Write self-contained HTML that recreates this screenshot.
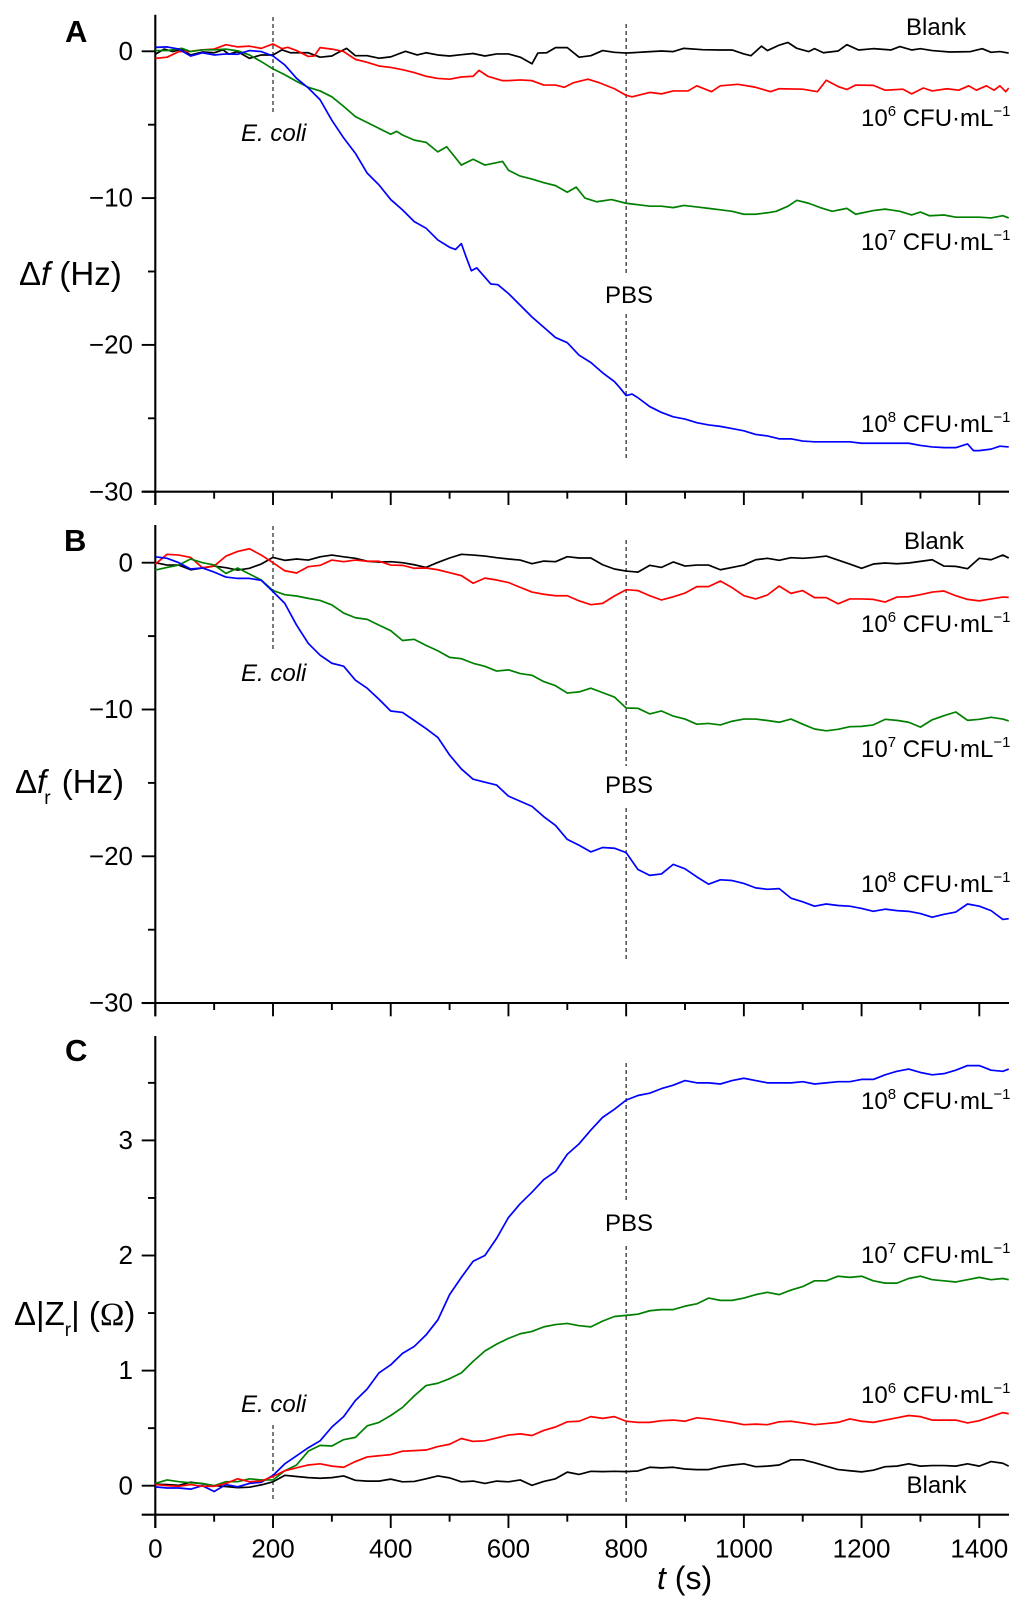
<!DOCTYPE html>
<html lang="en">
<head>
<meta charset="utf-8">
<title>Delta f, Delta fr and Delta |Zr| versus time</title>
<style>
  html, body { margin: 0; padding: 0; background: #fff; }
  svg { display: block; }
  text { font-family: "Liberation Sans", sans-serif; fill: #000; white-space: pre; }
  .lbl { font-size: 24px; }
  .sup { font-size: 15px; }
  .ttl { font-size: 33px; }
  .pan { font-size: 31px; font-weight: bold; }
  .it { font-style: italic; }
</style>
</head>
<body>
<svg id="chart" xmlns="http://www.w3.org/2000/svg" width="1024" height="1610" viewBox="0 0 1024 1610">
  <defs>
    <clipPath id="plot-clip"><rect x="150" y="0" width="859" height="1610"/></clipPath>
  </defs>
  <rect x="0" y="0" width="1024" height="1610" fill="#fff"/>
  <g id="plot-layer"></g>

  <text class="pan" x="65" y="42">A</text>
  <text class="pan" x="64" y="551">B</text>
  <text class="pan" x="65" y="1061">C</text>

  <text class="ttl" x="19" y="285">Δ<tspan class="it">f</tspan> (Hz)</text>
  <text class="ttl" x="15" y="793">Δ<tspan class="it">f</tspan><tspan font-size="19" dx="-2" dy="11">r</tspan><tspan dx="2" dy="-11"> (Hz)</tspan></text>
  <text class="ttl" x="14" y="1325">Δ|Z<tspan font-size="19" dy="11">r</tspan><tspan dy="-11">| (</tspan><tspan style="font-family:'Liberation Serif',serif">Ω</tspan>)</text>
  <text class="ttl" x="657" y="1589" style="font-size:32px"><tspan class="it">t</tspan> (s)</text>

  <text class="lbl it" x="241" y="141">E. coli</text>
  <text class="lbl it" x="241" y="681">E. coli</text>
  <text class="lbl it" x="241" y="1412">E. coli</text>
  <text class="lbl" x="605" y="303">PBS</text>
  <text class="lbl" x="605" y="793">PBS</text>
  <text class="lbl" x="605" y="1231">PBS</text>

  <text class="lbl" x="906" y="35">Blank</text>
  <text class="lbl" x="861" y="126">10<tspan class="sup" dy="-10">6</tspan><tspan dy="10"> CFU·mL</tspan><tspan class="sup" dy="-10">−1</tspan></text>
  <text class="lbl" x="861" y="250">10<tspan class="sup" dy="-10">7</tspan><tspan dy="10"> CFU·mL</tspan><tspan class="sup" dy="-10">−1</tspan></text>
  <text class="lbl" x="861" y="432">10<tspan class="sup" dy="-10">8</tspan><tspan dy="10"> CFU·mL</tspan><tspan class="sup" dy="-10">−1</tspan></text>

  <text class="lbl" x="904" y="549">Blank</text>
  <text class="lbl" x="861" y="632">10<tspan class="sup" dy="-10">6</tspan><tspan dy="10"> CFU·mL</tspan><tspan class="sup" dy="-10">−1</tspan></text>
  <text class="lbl" x="861" y="757">10<tspan class="sup" dy="-10">7</tspan><tspan dy="10"> CFU·mL</tspan><tspan class="sup" dy="-10">−1</tspan></text>
  <text class="lbl" x="861" y="892">10<tspan class="sup" dy="-10">8</tspan><tspan dy="10"> CFU·mL</tspan><tspan class="sup" dy="-10">−1</tspan></text>

  <text class="lbl" x="861" y="1109">10<tspan class="sup" dy="-10">8</tspan><tspan dy="10"> CFU·mL</tspan><tspan class="sup" dy="-10">−1</tspan></text>
  <text class="lbl" x="861" y="1263">10<tspan class="sup" dy="-10">7</tspan><tspan dy="10"> CFU·mL</tspan><tspan class="sup" dy="-10">−1</tspan></text>
  <text class="lbl" x="861" y="1403">10<tspan class="sup" dy="-10">6</tspan><tspan dy="10"> CFU·mL</tspan><tspan class="sup" dy="-10">−1</tspan></text>
  <text class="lbl" x="906.5" y="1493">Blank</text>
</svg>

<script>
// ---------- Shared axis tick values ----------
const xMajorTicks = [0, 200, 400, 600, 800, 1000, 1200, 1400];
const xMinorTicks = [100, 300, 500, 700, 900, 1100, 1300];
const xTickLabels = ["0", "200", "400", "600", "800", "1000", "1200", "1400"];
const freqMajorTicks = [0, -10, -20, -30];
const freqMinorTicks = [-5, -15, -25];
const freqTickLabels = ["0", "−10", "−20", "−30"];
const zMajorTicks = [0, 1, 2, 3];
const zMinorTicks = [0.5, 1.5, 2.5, 3.5];
const zTickLabels = ["0", "1", "2", "3"];

// ---------- Panel A: delta f (Hz) ----------
const aBlankT = [0,15,30,45,60,80,100,115,125,140,160,180,200,215,230,260,280,300,310,325,340,360,380,400,425,445,460,480,500,520,540,560,580,600,620,640,650,665,680,700,720,740,760,780,800,830,860,880,898,930,960,980,1000,1012,1030,1040,1060,1075,1090,1110,1120,1135,1160,1175,1195,1220,1250,1265,1285,1300,1320,1350,1385,1405,1420,1435,1450];
const aBlankV = [-0.2,0.15,-0.02,0.15,-0.25,-0.05,-0.1,0.1,-0.2,-0.02,-0.48,-0.25,-0.25,0.1,-0.1,-0.1,-0.4,-0.32,-0.1,0.2,-0.3,-0.3,-0.47,-0.38,0,-0.25,-0.1,-0.25,-0.32,-0.23,-0.15,-0.32,-0.18,-0.18,-0.4,-0.85,-0.12,-0.1,0.25,0.25,-0.4,-0.3,0.05,-0.07,-0.12,-0.05,0.02,-0.02,0.2,0.11,0.09,0.09,-0.18,-0.3,0.35,0.05,0.42,0.6,0.2,-0.02,0.18,-0.1,0.02,0.45,0.09,0.18,0.09,0.32,0.09,0.18,0.05,-0.05,-0.02,0.18,-0.07,-0.02,-0.12];

const aRedT = [0,20,40,60,80,100,120,140,160,180,200,215,225,240,260,270,280,300,320,340,360,380,400,420,440,460,480,500,520,540,550,565,590,600,620,640,660,680,695,710,735,755,780,800,810,840,860,880,905,920,945,960,990,1020,1045,1060,1100,1125,1140,1160,1175,1190,1220,1240,1270,1285,1305,1320,1345,1365,1382,1395,1412,1425,1435,1445,1450];
const aRedV = [-0.48,-0.4,-0.02,0,0.1,0.15,0.45,0.3,0.35,0.2,0.5,0.18,0.27,0.05,-0.35,-0.32,0.25,0.15,-0.02,-0.55,-0.75,-1,-1.1,-1.25,-1.45,-1.7,-1.85,-1.9,-1.75,-1.7,-1.3,-1.7,-2,-2,-1.95,-2,-2.3,-2.3,-2.45,-2.15,-1.9,-2.15,-2.55,-3,-3.1,-2.8,-2.9,-2.7,-2.7,-2.35,-2.75,-2.35,-2.25,-2.45,-2.75,-2.55,-2.58,-2.75,-1.97,-2.4,-2.6,-2.3,-2.32,-2.65,-2.58,-2.9,-2.5,-2.7,-2.55,-2.65,-2.35,-2.65,-2.35,-2.65,-2.35,-2.75,-2.5];

const aGreenT = [0,20,45,60,80,100,120,140,160,180,200,220,240,260,280,300,320,340,360,380,400,410,420,440,460,480,495,520,540,560,590,600,620,640,660,680,700,715,730,750,775,800,820,840,860,880,898,920,940,960,980,1000,1020,1040,1055,1075,1090,1110,1130,1150,1175,1190,1220,1240,1265,1285,1300,1315,1340,1360,1400,1420,1440,1450];
const aGreenV = [0.05,0.05,0.2,-0.02,0.1,0.1,0.15,0.03,-0.25,-0.7,-1.2,-1.6,-2.05,-2.45,-2.7,-3.1,-3.75,-4.45,-4.85,-5.25,-5.65,-5.45,-5.7,-6.05,-6.2,-6.85,-6.5,-7.75,-7.35,-7.75,-7.5,-8.1,-8.5,-8.7,-8.95,-9.15,-9.6,-9.25,-10,-10.25,-10.1,-10.35,-10.45,-10.55,-10.55,-10.65,-10.5,-10.6,-10.7,-10.8,-10.9,-11.1,-11.1,-11,-10.9,-10.55,-10.15,-10.35,-10.65,-10.9,-10.7,-11.1,-10.85,-10.75,-10.9,-11.15,-10.95,-11.2,-11.15,-11.3,-11.3,-11.35,-11.2,-11.35];

const aBlueT = [0,20,40,60,80,100,120,140,160,180,200,220,240,260,280,300,320,340,360,380,400,420,440,460,480,500,510,520,528,537,546,570,582,600,620,640,660,680,700,720,740,760,780,790,800,810,820,840,860,880,900,920,940,960,980,1000,1020,1040,1060,1080,1100,1120,1140,1160,1180,1200,1220,1240,1260,1280,1300,1320,1340,1360,1380,1390,1400,1420,1435,1450];
const aBlueV = [0.27,0.3,0.15,-0.32,-0.1,-0.25,-0.18,-0.2,0.05,-0.02,-0.32,-0.93,-1.84,-2.5,-3.3,-4.7,-5.9,-6.95,-8.3,-9.1,-10.1,-10.8,-11.6,-12.05,-12.85,-13.35,-13.5,-13.1,-14,-14.95,-14.75,-15.85,-15.9,-16.5,-17.3,-18.1,-18.8,-19.5,-19.85,-20.7,-21.2,-21.9,-22.5,-22.95,-23.45,-23.35,-23.6,-24.2,-24.6,-24.9,-25.05,-25.3,-25.45,-25.55,-25.7,-25.85,-26.1,-26.2,-26.4,-26.4,-26.55,-26.6,-26.6,-26.6,-26.6,-26.7,-26.7,-26.7,-26.7,-26.7,-26.85,-26.95,-27,-27,-26.75,-27.2,-27.2,-27.1,-26.9,-26.95];

// ---------- Panels B and C share a 20 s sampling grid ----------
const gridTimes = [0,20,40,60,80,100,120,140,160,180,200,220,240,260,280,300,320,340,360,380,400,420,440,460,480,500,520,540,560,580,600,620,640,660,680,700,720,740,760,780,800,820,840,860,880,900,920,940,960,980,1000,1020,1040,1060,1080,1100,1120,1140,1160,1180,1200,1220,1240,1260,1280,1300,1320,1340,1360,1380,1400,1420,1440,1450];

// ---------- Panel B: delta fr (Hz) ----------
const bBlankV = [0,-0.16,-0.16,-0.48,-0.36,-0.23,-0.34,-0.5,-0.38,-0.09,0.36,0.16,0.25,0.18,0.4,0.52,0.4,0.3,0.1,0.05,0.07,0,-0.14,-0.32,0.02,0.32,0.57,0.52,0.45,0.34,0.25,0.18,-0.07,0.11,0.07,0.41,0.32,0.32,-0.14,-0.43,-0.57,-0.64,-0.18,-0.32,0.05,-0.23,-0.16,-0.16,-0.48,-0.32,-0.16,0.2,0.3,0.16,0.34,0.3,0.36,0.45,0.18,-0.09,-0.38,-0.09,-0.02,-0.07,-0.02,0.09,0.2,-0.23,-0.25,-0.41,0.3,0.2,0.52,0.32];
const bRedV = [-0.1,0.57,0.52,0.36,-0.34,-0.23,0.45,0.77,0.95,0.52,0,-0.55,-0.7,-0.27,-0.18,0.18,0.07,0.18,0.1,0.1,-0.16,-0.18,-0.38,-0.36,-0.48,-0.68,-0.88,-1.4,-1.05,-1.18,-1.35,-1.68,-2,-2.15,-2.25,-2.25,-2.6,-2.86,-2.77,-2.27,-1.84,-1.9,-2.25,-2.54,-2.32,-2.07,-1.63,-1.63,-1.25,-1.7,-2.25,-2.47,-2.2,-1.59,-2.09,-1.9,-2.38,-2.38,-2.8,-2.47,-2.47,-2.5,-2.68,-2.34,-2.32,-2.18,-2,-1.93,-2.25,-2.5,-2.6,-2.47,-2.34,-2.36];
const bGreenV = [-0.5,-0.32,-0.16,0.25,0,-0.15,-0.73,-0.36,-0.77,-1.18,-1.9,-2.18,-2.27,-2.43,-2.57,-2.88,-3.43,-3.75,-3.86,-4.25,-4.63,-5.3,-5.22,-5.63,-6,-6.45,-6.54,-6.85,-7.06,-7.38,-7.3,-7.55,-7.67,-8.1,-8.38,-8.88,-8.8,-8.55,-8.85,-9.15,-9.9,-9.92,-10.3,-10.1,-10.45,-10.65,-11,-10.95,-11.05,-10.8,-10.65,-10.65,-10.75,-10.87,-10.65,-11,-11.33,-11.45,-11.35,-11.17,-11.15,-11.05,-10.67,-10.74,-10.87,-11.2,-10.7,-10.42,-10.17,-10.74,-10.67,-10.53,-10.65,-10.78];
const bBlueV = [0.4,0.3,0,-0.43,-0.36,-0.64,-0.98,-1.07,-1.07,-1.2,-1.97,-2.77,-4.25,-5.5,-6.3,-6.85,-7.05,-8,-8.55,-9.3,-10.1,-10.2,-10.75,-11.3,-11.9,-13.1,-14.05,-14.75,-14.95,-15.15,-15.9,-16.25,-16.6,-17.3,-17.9,-18.85,-19.25,-19.7,-19.4,-19.45,-19.75,-20.9,-21.3,-21.2,-20.55,-20.85,-21.4,-21.9,-21.6,-21.65,-21.85,-22.15,-22.25,-22.2,-22.85,-23.1,-23.4,-23.25,-23.35,-23.4,-23.55,-23.75,-23.6,-23.7,-23.75,-23.9,-24.15,-23.95,-23.8,-23.25,-23.4,-23.7,-24.3,-24.25];

// ---------- Panel C: delta |Zr| (ohm) ----------
const cBlankV = [0.013,0.01,0.003,0.03,0.017,0,-0.007,-0.017,-0.013,0.007,0.034,0.09,0.08,0.07,0.065,0.07,0.085,0.047,0.04,0.04,0.057,0.034,0.037,0.06,0.085,0.068,0.034,0.04,0.02,0.04,0.034,0.05,0.003,0.037,0.06,0.118,0.098,0.125,0.122,0.125,0.122,0.128,0.16,0.155,0.16,0.145,0.14,0.14,0.165,0.18,0.19,0.165,0.17,0.18,0.225,0.225,0.2,0.17,0.14,0.13,0.12,0.135,0.165,0.17,0.19,0.17,0.175,0.175,0.17,0.19,0.17,0.21,0.195,0.17];
const cRedV = [0.01,0,-0.005,0.01,-0.005,-0.005,0.02,0.06,0.035,0.04,0.08,0.13,0.155,0.18,0.19,0.17,0.16,0.21,0.25,0.26,0.27,0.3,0.305,0.31,0.34,0.36,0.41,0.385,0.39,0.415,0.44,0.45,0.436,0.48,0.51,0.555,0.56,0.6,0.585,0.6,0.56,0.55,0.55,0.565,0.57,0.56,0.59,0.58,0.565,0.55,0.53,0.535,0.53,0.555,0.56,0.545,0.53,0.54,0.55,0.58,0.56,0.55,0.57,0.59,0.61,0.6,0.57,0.57,0.57,0.545,0.565,0.6,0.635,0.625];
const cGreenV = [0.02,0.05,0.035,0.025,0.02,0,0.035,0.035,0.06,0.05,0.05,0.13,0.18,0.3,0.35,0.345,0.4,0.42,0.52,0.55,0.61,0.68,0.78,0.87,0.89,0.93,0.98,1.08,1.17,1.23,1.28,1.32,1.34,1.38,1.4,1.41,1.39,1.38,1.43,1.47,1.48,1.49,1.52,1.53,1.53,1.56,1.58,1.63,1.61,1.61,1.63,1.66,1.68,1.66,1.7,1.73,1.78,1.78,1.82,1.81,1.82,1.78,1.76,1.76,1.8,1.82,1.79,1.78,1.77,1.79,1.81,1.79,1.8,1.79];
const cBlueV = [-0.01,-0.02,-0.02,-0.03,0,-0.05,0.01,-0.01,0.02,0.03,0.09,0.19,0.26,0.33,0.39,0.51,0.6,0.74,0.84,0.98,1.05,1.15,1.21,1.31,1.44,1.66,1.81,1.95,2,2.15,2.33,2.45,2.55,2.66,2.73,2.88,2.97,3.09,3.2,3.27,3.35,3.39,3.41,3.45,3.48,3.52,3.5,3.5,3.49,3.52,3.54,3.52,3.5,3.5,3.5,3.51,3.49,3.5,3.51,3.51,3.53,3.53,3.57,3.6,3.62,3.59,3.57,3.58,3.61,3.65,3.65,3.61,3.6,3.62];

// ---------- Injection event times ----------
const ecoliTime = [200];
const pbsTime = [800];

// ---------- Axis functions ----------
function xScale(t) { return 155.3 + t * 0.58857; }
function yA(v) { return 51.3 - v * 14.68; }
function yB(v) { return 562.7 - v * 14.68; }
function yC(v) { return 1485.7 - v * 115.1; }

const layer = document.getElementById('plot-layer');
const SVGNS = 'http://www.w3.org/2000/svg';

function addLine(x1, y1, x2, y2, width, color, dash) {
  const el = document.createElementNS(SVGNS, 'line');
  el.setAttribute('x1', x1);
  el.setAttribute('y1', y1);
  el.setAttribute('x2', x2);
  el.setAttribute('y2', y2);
  el.setAttribute('stroke', color || '#000');
  el.setAttribute('stroke-width', width);
  if (dash) el.setAttribute('stroke-dasharray', dash);
  layer.appendChild(el);
  return el;
}

function addSeries(times, values, yFn, color, name) {
  const el = document.createElementNS(SVGNS, 'polyline');
  const n = Math.min(times.length, values.length);
  const pts = [];
  for (let i = 0; i < n; i++) {
    pts.push(xScale(times[i]).toFixed(2) + ',' + yFn(values[i]).toFixed(2));
  }
  el.setAttribute('points', pts.join(' '));
  el.setAttribute('fill', 'none');
  el.setAttribute('stroke', color);
  el.setAttribute('stroke-width', '1.7');
  el.setAttribute('stroke-linejoin', 'round');
  el.setAttribute('clip-path', 'url(#plot-clip)');
  
  
  layer.appendChild(el);
}

function addTickText(x, y, anchor, str, name) {
  const el = document.createElementNS(SVGNS, 'text');
  el.setAttribute('x', x);
  el.setAttribute('y', y);
  el.setAttribute('text-anchor', anchor);
  el.setAttribute('font-size', '26');
  el.textContent = str;
  
  
  layer.appendChild(el);
}

function drawAxes(prefix, yFn, top, bottom, majors, minors, labels) {
  const x0 = xScale(0);
  const yAxis = addLine(x0, top, x0, bottom + 13.3, 2.1);
  
  
  const xAxis = addLine(141.7, bottom, 1009, bottom, 2.1);
  
  
  majors.forEach(function (v, i) {
    const tick = addLine(141.7, yFn(v), x0, yFn(v), 1.9);
    
    
    addTickText(133, yFn(v) + 8.6, 'end', labels[i], prefix + '-y-tick-label');
  });
  minors.forEach(function (v) {
    const tick = addLine(148, yFn(v), x0, yFn(v), 1.9);
    
    
  });
  xMajorTicks.forEach(function (t) {
    const tick = addLine(xScale(t), bottom, xScale(t), bottom + 13.3, 1.9);
    
    
  });
  xMinorTicks.forEach(function (t) {
    const tick = addLine(xScale(t), bottom, xScale(t), bottom + 7, 1.9);
    
    
  });
}

function drawMarker(time, y1, y2, name) {
  const el = addLine(xScale(time), y1, xScale(time), y2, 1.3, '#333', '4 3');
  
  
}

// ---------- Panel A ----------
drawAxes('panel-a', yA, 14.7, 491.7, freqMajorTicks, freqMinorTicks, freqTickLabels);
drawMarker(ecoliTime[0], 17, 113, 'panel-a-ecoli-marker');
drawMarker(pbsTime[0], 24, 275, 'panel-a-pbs-marker-upper');
drawMarker(pbsTime[0], 314, 460, 'panel-a-pbs-marker-lower');
addSeries(aBlankT, aBlankV, yA, '#000000', 'panel-a-series-blank');
addSeries(aRedT, aRedV, yA, '#ff0000', 'panel-a-series-1e6');
addSeries(aGreenT, aGreenV, yA, '#008000', 'panel-a-series-1e7');
addSeries(aBlueT, aBlueV, yA, '#0000ff', 'panel-a-series-1e8');

// ---------- Panel B ----------
drawAxes('panel-b', yB, 525, 1003, freqMajorTicks, freqMinorTicks, freqTickLabels);
drawMarker(ecoliTime[0], 526, 652, 'panel-b-ecoli-marker');
drawMarker(pbsTime[0], 540, 766, 'panel-b-pbs-marker-upper');
drawMarker(pbsTime[0], 808, 960, 'panel-b-pbs-marker-lower');
addSeries(gridTimes, bBlankV, yB, '#000000', 'panel-b-series-blank');
addSeries(gridTimes, bRedV, yB, '#ff0000', 'panel-b-series-1e6');
addSeries(gridTimes, bGreenV, yB, '#008000', 'panel-b-series-1e7');
addSeries(gridTimes, bBlueV, yB, '#0000ff', 'panel-b-series-1e8');

// ---------- Panel C ----------
drawAxes('panel-c', yC, 1036, 1514.7, zMajorTicks, zMinorTicks, zTickLabels);
drawMarker(ecoliTime[0], 1425, 1500, 'panel-c-ecoli-marker');
drawMarker(pbsTime[0], 1063, 1203, 'panel-c-pbs-marker-upper');
drawMarker(pbsTime[0], 1246, 1502, 'panel-c-pbs-marker-lower');
addSeries(gridTimes, cBlankV, yC, '#000000', 'panel-c-series-blank');
addSeries(gridTimes, cBlueV, yC, '#0000ff', 'panel-c-series-1e8');
addSeries(gridTimes, cGreenV, yC, '#008000', 'panel-c-series-1e7');
addSeries(gridTimes, cRedV, yC, '#ff0000', 'panel-c-series-1e6');

xMajorTicks.forEach(function (t, i) {
  addTickText(xScale(t), 1557.7, 'middle', xTickLabels[i], 'x-tick-label');
});
</script>
</body>
</html>
